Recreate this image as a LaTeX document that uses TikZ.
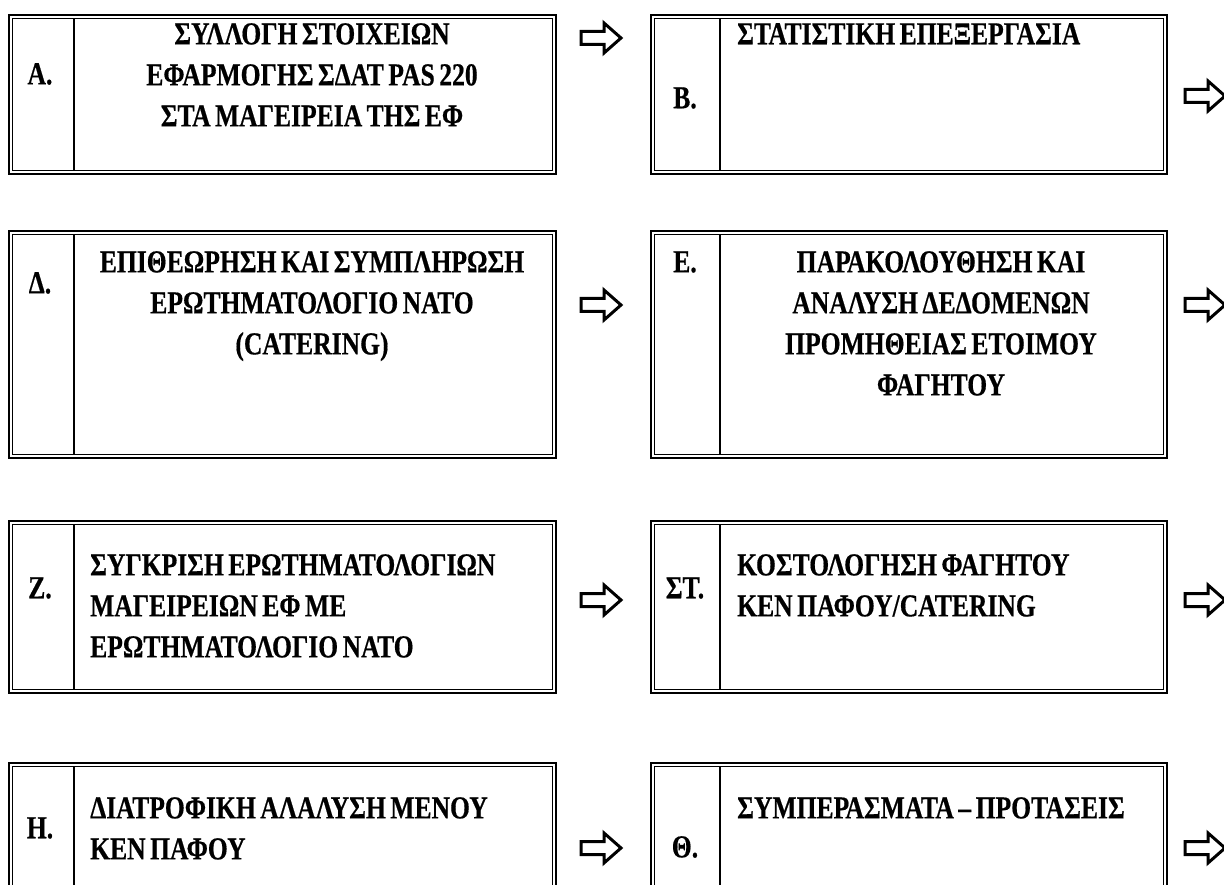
\documentclass[tikz,border=0pt]{standalone}
\usepackage{fontspec}
\newfontfamily\grfont[FakeStretch=0.8,WordSpace=0.7,FakeBold=0.5]{Liberation Serif}
\newcommand{\dblbox}[6]{%
  \node[outerbox, minimum width=#4, minimum height=#5, anchor=north west] (#1) at (#2,#3) {};
  \draw[innerline] ([shift={(4.5,4.5)}]#1.north west) rectangle ([shift={(-4.5,-4.5)}]#1.south east);
  \draw[divline] ([shift={(#6,4.5)}]#1.north west) -- ([shift={(#6,-4.5)}]#1.south west);
}
\newcommand{\blockarr}[3]{%
  \coordinate (#1) at (#2,#3);
  \draw[arrline] (#1) ++(0,-6.5) -- ++(23,0) -- ++(0,-8.5) -- ++(17,15) -- ++(-17,15) -- ++(0,-8.5) -- ++(-23,0) -- cycle;
}
\begin{document}
\begin{tikzpicture}[x=1pt,y=-1pt,
  outerbox/.style={draw, line width=2pt, inner sep=0pt, fill=white},
  innerline/.style={line width=1pt},
  divline/.style={line width=2pt},
  arrline/.style={line width=3pt, line join=miter, fill=white},
  txt/.style={inner sep=0pt, font=\grfont\bfseries\fontsize{32}{41}\selectfont}]
\useasboundingbox (0,0) rectangle (1224,885);
\clip (0,0) rectangle (1224,885);
\fill[white] (0,0) rectangle (1224,885);
% row 1
\dblbox{A}{8}{14}{547}{159}{66}
\dblbox{B}{650}{14}{516}{159}{70}
\node[txt, anchor=north, align=center] (Atext) at (312,23) {ΣΥΛΛΟΓΗ ΣΤΟΙΧΕΙΩΝ\\ΕΦΑΡΜΟΓΗΣ ΣΔΑΤ PAS 220\\ΣΤΑ ΜΑΓΕΙΡΕΙΑ ΤΗΣ ΕΦ};
\node[txt] (Alab) at (40,74) {Α.};
\node[txt, anchor=north west, align=left] (Btext) at (737,23) {ΣΤΑΤΙΣΤΙΚΗ ΕΠΕΞΕΡΓΑΣΙΑ};
\node[txt] (Blab) at (685,98) {Β.};
\blockarr{arAB}{581}{38}
\blockarr{arB}{1185}{96}
% row 2
\dblbox{D}{8}{230}{547}{227}{66}
\dblbox{E}{650}{230}{516}{227}{70}
\node[txt, anchor=north, align=center] (Dtext) at (312,251) {ΕΠΙΘΕΩΡΗΣΗ ΚΑΙ ΣΥΜΠΛΗΡΩΣΗ\\ΕΡΩΤΗΜΑΤΟΛΟΓΙΟ ΝΑΤΟ\\(CATERING)};
\node[txt] (Dlab) at (40,283) {Δ.};
\node[txt, anchor=north, align=center] (Etext) at (941,251) {ΠΑΡΑΚΟΛΟΥΘΗΣΗ ΚΑΙ\\ΑΝΑΛΥΣΗ ΔΕΔΟΜΕΝΩΝ\\ΠΡΟΜΗΘΕΙΑΣ ΕΤΟΙΜΟΥ\\ΦΑΓΗΤΟΥ};
\node[txt] (Elab) at (685,262) {Ε.};
\blockarr{arDE}{581}{305}
\blockarr{arE}{1185}{305}
% row 3
\dblbox{Z}{8}{520}{547}{172}{66}
\dblbox{S}{650}{520}{516}{172}{70}
\node[txt, anchor=north west, align=left] (Ztext) at (90,554) {ΣΥΓΚΡΙΣΗ ΕΡΩΤΗΜΑΤΟΛΟΓΙΩΝ\\ΜΑΓΕΙΡΕΙΩΝ ΕΦ ΜΕ\\ΕΡΩΤΗΜΑΤΟΛΟΓΙΟ ΝΑΤΟ};
\node[txt] (Zlab) at (40,588) {Ζ.};
\node[txt, anchor=north west, align=left] (Stext) at (737,554) {ΚΟΣΤΟΛΟΓΗΣΗ ΦΑΓΗΤΟΥ\\ΚΕΝ ΠΑΦΟΥ/CATERING};
\node[txt] (Slab) at (685,588) {ΣΤ.};
\blockarr{arZS}{581}{600}
\blockarr{arS}{1185}{600}
% row 4
\dblbox{H}{8}{762}{547}{170}{66}
\dblbox{T}{650}{762}{516}{170}{70}
\node[txt, anchor=north west, align=left] (Htext) at (90,797) {ΔΙΑΤΡΟΦΙΚΗ ΑΛΑΛΥΣΗ ΜΕΝΟΥ\\ΚΕΝ ΠΑΦΟΥ};
\node[txt] (Hlab) at (40,828) {Η.};
\node[txt, anchor=north west, align=left] (Ttext) at (737,797) {ΣΥΜΠΕΡΑΣΜΑΤΑ – ΠΡΟΤΑΣΕΙΣ};
\node[txt] (Tlab) at (685,847) {Θ.};
\blockarr{arHT}{581}{848}
\blockarr{arT}{1185}{848}
\end{tikzpicture}
\end{document}
